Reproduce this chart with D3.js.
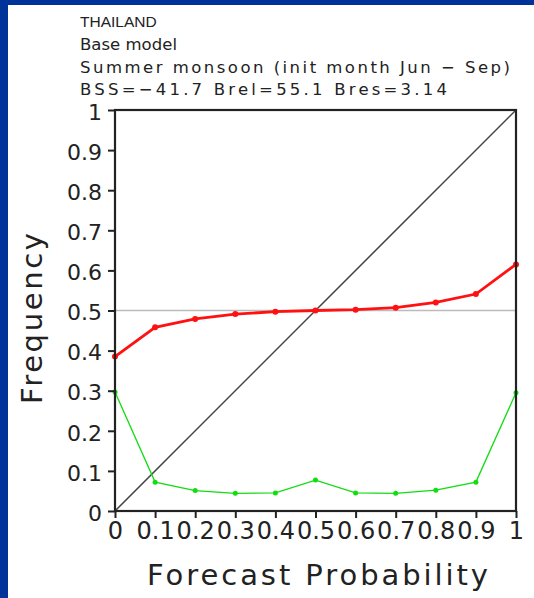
<!DOCTYPE html>
<html>
<head>
<meta charset="utf-8">
<script src="https://cdn.jsdelivr.net/npm/d3@7"></script>
<style>
  body { margin: 0; background: #fff; }
  text { font-family: "DejaVu Sans", sans-serif; fill: #222; }
</style>
</head>
<body>
<div id="chart"></div>
<script>
// Reliability diagram data
var probs = [0, 0.1, 0.2, 0.3, 0.4, 0.5, 0.6, 0.7, 0.8, 0.9, 1];
var observedFreq = [0.385, 0.458, 0.479, 0.491, 0.497, 0.500, 0.502, 0.507, 0.520, 0.541, 0.615];
var forecastFreq = [0.297, 0.072, 0.051, 0.044, 0.045, 0.077, 0.045, 0.044, 0.052, 0.072, 0.295];
var xTickLabels = ["0", "0.1", "0.2", "0.3", "0.4", "0.5", "0.6", "0.7", "0.8", "0.9", "1"];
var yTicks = [0, 0.1, 0.2, 0.3, 0.4, 0.5, 0.6, 0.7, 0.8, 0.9, 1];
var climatology = 0.5;
var titleLines = [
    "Base model",
    "Summer monsoon (init month Jun \u2212 Sep)",
    "BSS=\u221241.7   Brel=55.1   Bres=3.14"
];

var W = 534, H = 598;
var margin = {top: 110, right: 18, bottom: 87, left: 115};
var width = W - margin.left - margin.right,
    height = H - margin.top - margin.bottom;

var svg = d3.select("#chart").append("svg")
    .attr("width", W)
    .attr("height", H);

// blue frame of the slide
svg.append("rect").attr("x", 0).attr("y", 0).attr("width", W).attr("height", 5).attr("fill", "#003399");
svg.append("rect").attr("x", 0).attr("y", 0).attr("width", 8).attr("height", H).attr("fill", "#003399");

var x = d3.scaleLinear().domain([0, 1]).range([0, width]);
var y = d3.scaleLinear().domain([0, 1]).range([height, 0]);

var g = svg.append("g")
    .attr("transform", "translate(" + margin.left + "," + margin.top + ")");

// titles
svg.append("text")
    .attr("x", 80).attr("y", 27)
    .style("font-family", "'Liberation Sans', Arial, sans-serif")
    .style("font-size", "15.5px")
    .text("THAILAND");

var titleWidths = [97, 430, 367];
titleLines.forEach(function(t, i) {
    svg.append("text")
        .attr("x", 80).attr("y", 50 + i * 22.5)
        .style("font-size", "16.5px")
        .attr("textLength", titleWidths[i])
        .attr("lengthAdjust", "spacing")
        .text(t);
});

// climatology line
g.append("line")
    .attr("x1", x(0)).attr("x2", x(1))
    .attr("y1", y(climatology)).attr("y2", y(climatology))
    .attr("stroke", "#bbb").attr("stroke-width", 1.5);

// perfect reliability diagonal
g.append("line")
    .attr("x1", x(0)).attr("y1", y(0))
    .attr("x2", x(1)).attr("y2", y(1))
    .attr("stroke", "#444").attr("stroke-width", 1.5);

var line = d3.line()
    .x(function(d) { return x(d[0]); })
    .y(function(d) { return y(d[1]); });

var greenData = d3.zip(probs, forecastFreq);
var redData = d3.zip(probs, observedFreq);

g.append("path")
    .datum(greenData)
    .attr("d", line)
    .attr("fill", "none")
    .attr("stroke", "#11dd11")
    .attr("stroke-width", 1.3);
g.selectAll(".gdot").data(greenData).enter().append("circle")
    .attr("class", "gdot")
    .attr("cx", function(d) { return x(d[0]); })
    .attr("cy", function(d) { return y(d[1]); })
    .attr("r", 2.5)
    .attr("fill", "#11dd11");

g.append("path")
    .datum(redData)
    .attr("d", line)
    .attr("fill", "none")
    .attr("stroke", "#ff1111")
    .attr("stroke-width", 2.8);
g.selectAll(".rdot").data(redData).enter().append("circle")
    .attr("class", "rdot")
    .attr("cx", function(d) { return x(d[0]); })
    .attr("cy", function(d) { return y(d[1]); })
    .attr("r", 3)
    .attr("fill", "#ff1111");

// frame
g.append("rect")
    .attr("x", 0).attr("y", 0)
    .attr("width", width).attr("height", height)
    .attr("fill", "none")
    .attr("stroke", "#222")
    .attr("stroke-width", 2.2);

// axes
var xAxis = g.append("g")
    .attr("transform", "translate(0," + height + ")")
    .call(d3.axisBottom(x).tickValues(probs)
        .tickFormat(function(d, i) { return xTickLabels[i]; })
        .tickSize(7).tickPadding(4));
var yAxis = g.append("g")
    .call(d3.axisLeft(y).tickValues(yTicks)
        .tickFormat(d3.format("~g"))
        .tickSize(7).tickPadding(6));

[xAxis, yAxis].forEach(function(a) {
    a.select(".domain").remove();
    a.selectAll(".tick line").attr("stroke", "#222").attr("stroke-width", 2);
    a.selectAll(".tick text")
        .style("font-family", "'DejaVu Sans', sans-serif")
        .attr("fill", "#222");
});
xAxis.selectAll(".tick text").style("font-size", "24px");
yAxis.selectAll(".tick text").style("font-size", "22px").attr("dy", "0.42em");

// axis titles
svg.append("text")
    .attr("x", 147).attr("y", 585)
    .style("font-size", "29px")
    .attr("textLength", 341)
    .attr("lengthAdjust", "spacing")
    .text("Forecast Probability");

svg.append("text")
    .attr("transform", "translate(42,404) rotate(-90)")
    .style("font-size", "29px")
    .attr("textLength", 171)
    .attr("lengthAdjust", "spacing")
    .text("Frequency");
</script>
</body>
</html>
